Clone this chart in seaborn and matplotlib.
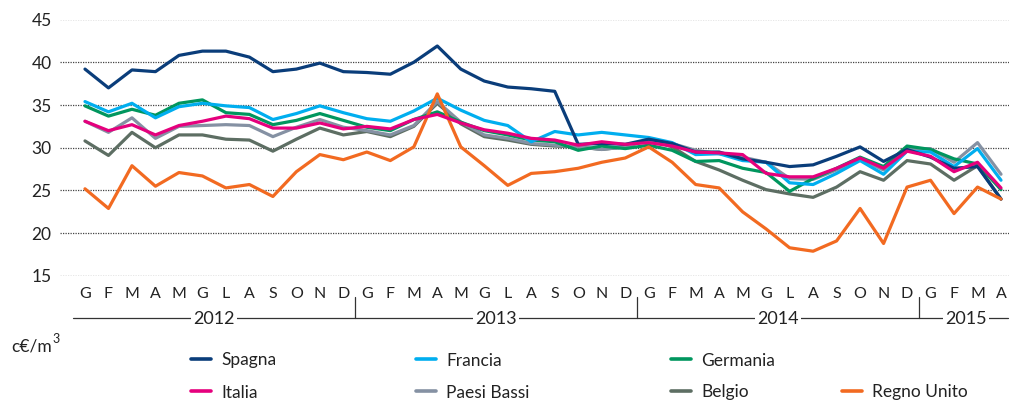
import matplotlib
matplotlib.use("Agg")
import matplotlib.pyplot as plt
import matplotlib.transforms as mtransforms
from matplotlib.lines import Line2D
import numpy as np
import pandas as pd
import seaborn as sns

months = ["G", "F", "M", "A", "M", "G", "L", "A", "S", "O", "N", "D"] * 3 + ["G", "F", "M", "A"]
years = ["2012", "2013", "2014", "2015"]
year_centers = [5.5, 17.5, 29.5, 37.5]
year_breaks = [11.5, 23.5, 35.5]

spagna = [39.2, 37.0, 39.1, 38.9, 40.8, 41.3, 41.3, 40.6, 38.9, 39.2, 39.9, 38.9,
          38.8, 38.6, 40.0, 41.9, 39.2, 37.8, 37.1, 36.9, 36.6, 30.4, 30.5, 30.4,
          31.0, 30.5, 29.5, 29.5, 28.7, 28.3, 27.8, 28.0, 29.0, 30.1, 28.4, 29.8,
          28.9, 27.6, 27.8, 24.0]
francia = [35.4, 34.2, 35.2, 33.5, 34.8, 35.2, 34.9, 34.7, 33.3, 34.0, 34.9, 34.1,
           33.4, 33.1, 34.3, 35.8, 34.4, 33.2, 32.6, 30.7, 31.9, 31.5, 31.8, 31.5,
           31.2, 30.6, 29.2, 29.3, 28.5, 28.3, 25.9, 25.7, 27.0, 28.5, 26.9, 29.6,
           29.5, 27.8, 29.9, 26.2]
germania = [34.9, 33.7, 34.5, 33.8, 35.2, 35.6, 34.1, 33.9, 32.7, 33.2, 34.0, 33.2,
            32.4, 32.0, 33.3, 34.2, 33.0, 32.0, 31.5, 30.9, 30.7, 29.7, 30.2, 29.9,
            30.3, 29.7, 28.4, 28.5, 27.6, 27.1, 24.9, 26.4, 27.6, 28.9, 27.8, 30.2,
            29.8, 28.7, 28.1, 25.1]
italia = [33.1, 32.0, 32.7, 31.5, 32.6, 33.1, 33.7, 33.4, 32.3, 32.3, 32.9, 32.2,
          32.5, 32.2, 33.3, 33.9, 32.9, 32.1, 31.7, 31.1, 30.9, 30.3, 30.7, 30.4,
          30.6, 30.2, 29.5, 29.4, 29.2, 27.0, 26.6, 26.6, 27.6, 28.8, 27.6, 29.6,
          29.0, 27.2, 28.3, 25.3]
paesi_bassi = [33.1, 31.8, 33.5, 31.1, 32.5, 32.6, 32.7, 32.6, 31.3, 32.4, 33.3, 32.4,
               32.0, 31.5, 32.6, 35.4, 33.0, 31.5, 31.1, 30.5, 30.3, 30.1, 29.8, 30.1,
               30.9, 30.5, 29.7, 29.3, 28.9, 28.3, 26.4, 26.3, 27.4, 28.7, 27.4, 29.9,
               29.9, 28.3, 30.6, 26.9]
belgio = [30.8, 29.1, 31.8, 30.0, 31.5, 31.5, 31.0, 30.9, 29.6, 31.0, 32.3, 31.5,
          31.9, 31.3, 32.5, 35.2, 32.8, 31.3, 30.9, 30.4, 30.2, 30.1, 29.8, 30.1,
          31.0, 30.1, 28.4, 27.4, 26.2, 25.1, 24.6, 24.2, 25.4, 27.2, 26.2, 28.5,
          28.1, 26.2, 27.9, 24.0]
regno_unito = [25.2, 22.9, 27.9, 25.5, 27.1, 26.7, 25.3, 25.7, 24.3, 27.2, 29.2, 28.6,
               29.5, 28.5, 30.1, 36.3, 30.1, 27.9, 25.6, 27.0, 27.2, 27.6, 28.3, 28.8,
               30.1, 28.3, 25.7, 25.3, 22.5, 20.5, 18.3, 17.9, 19.1, 22.9, 18.8, 25.4,
               26.2, 22.3, 25.4, 24.0]

series = {
    "Belgio": belgio,
    "Paesi Bassi": paesi_bassi,
    "Germania": germania,
    "Francia": francia,
    "Spagna": spagna,
    "Regno Unito": regno_unito,
    "Italia": italia,
}
colors = {
    "Spagna": "#0a3d7a",
    "Francia": "#00aeef",
    "Germania": "#00965e",
    "Italia": "#e5007d",
    "Paesi Bassi": "#8591a3",
    "Belgio": "#5d6e63",
    "Regno Unito": "#f26a21",
}

rows = []
for name, vals in series.items():
    for i, v in enumerate(vals):
        rows.append({"t": i, "valore": v, "paese": name})
df = pd.DataFrame(rows)

sns.set_theme(style="white")
plt.rcParams["font.family"] = ["Lato", "DejaVu Sans"]
TXT = "#222222"

W, H = 1014, 400
fig = plt.figure(figsize=(W / 100, H / 100), dpi=100)
left, right, top, bottom = 60, 1009, 19.5, 276
ax = fig.add_axes([left / W, 1 - bottom / H, (right - left) / W, (bottom - top) / H])

sns.lineplot(data=df, x="t", y="valore", hue="paese", hue_order=list(series.keys()),
             palette=colors, linewidth=2.3, legend=False, ax=ax, zorder=3)

x0 = -25 / 23.5
x1 = 39 + 8 / 23.5
ax.set_xlim(x0, x1)
ax.set_ylim(15, 45)
ax.set_yticks([15, 20, 25, 30, 35, 40, 45])
ax.yaxis.grid(True, color="#444444", linestyle=(0, (1, 1)), linewidth=0.9)
ax.xaxis.grid(False)
for s in ax.spines.values():
    s.set_visible(False)
ax.tick_params(axis="y", length=0, pad=6, labelsize=12.5, labelcolor=TXT)
ax.set_xticks(range(len(months)))
ax.set_xticklabels(months)
ax.tick_params(axis="x", length=0, pad=8, labelsize=11.5, labelcolor=TXT)
ax.set_xlabel("")
ax.set_ylabel("")

# Year axis
trans = mtransforms.blended_transform_factory(ax.transData, ax.transAxes)
ah = bottom - top
def ay(py):
    return (bottom - py) / ah

yl = ay(318)
ax.plot([(73 - 85) / 23.5, (1008 - 85) / 23.5], [yl, yl], transform=trans,
        color="#333333", linewidth=0.9, clip_on=False, zorder=1)
for xb in year_breaks:
    ax.plot([xb, xb], [ay(297), yl], transform=trans, color="#333333",
            linewidth=0.9, clip_on=False, zorder=1)
for yr, xc in zip(years, year_centers):
    ax.text(xc, yl, yr, transform=trans, ha="center", va="center_baseline",
            fontsize=13, color=TXT, zorder=2,
            bbox=dict(facecolor="white", edgecolor="none", pad=1.5))

# Unit label
unit = fig.text(11 / W, 1 - 352 / H, "c€/m", ha="left", va="baseline",
                fontsize=12.5, color=TXT)
fig.canvas.draw()
bb = unit.get_window_extent()
fig.text((bb.x1 + 1) / W, 1 - 343 / H, "3", ha="left", va="baseline",
         fontsize=9, color=TXT)

# Legend
entries = [
    ("Spagna", 191, 359), ("Francia", 416, 359), ("Germania", 671, 359),
    ("Italia", 191, 391), ("Paesi Bassi", 416, 391), ("Belgio", 671, 391),
    ("Regno Unito", 842, 391),
]
for name, px, py in entries:
    fig.add_artist(Line2D([px / W, (px + 20) / W], [1 - py / H, 1 - py / H],
                          color=colors[name], linewidth=2.6,
                          transform=fig.transFigure))
    fig.text((px + 30) / W, 1 - py / H, name, ha="left", va="center_baseline",
             fontsize=12.5, color=TXT)

fig.savefig("out.png", dpi=100)
